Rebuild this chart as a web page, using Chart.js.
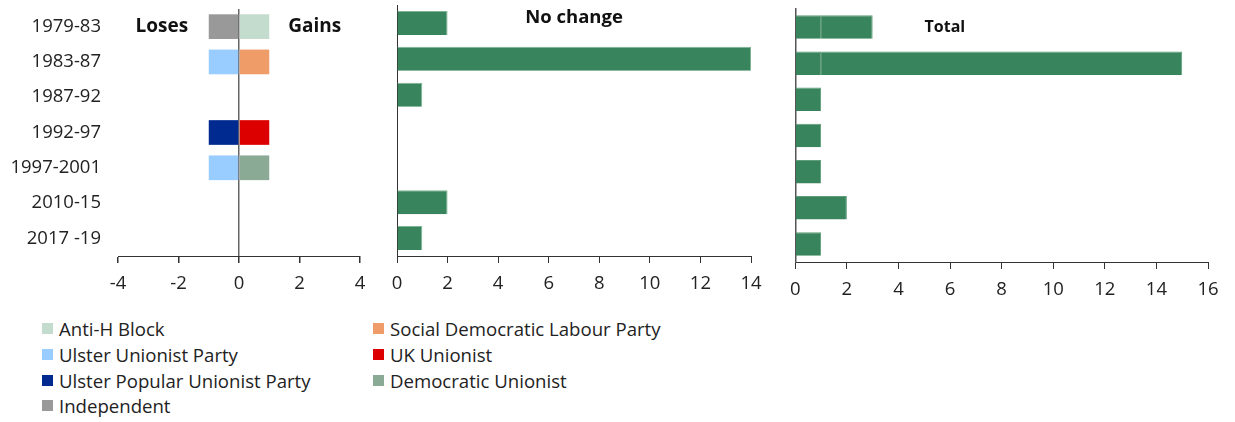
<!DOCTYPE html>
<html lang="en">
<head>
    <meta charset="UTF-8">
    <title>Northern Ireland seat changes</title>
    <script src="https://cdn.jsdelivr.net/npm/chart.js"></script>
    <style>
        body { margin: 0; background: #fff; width: 1235px; height: 422px; position: relative; overflow: hidden; font-family: 'Open Sans', sans-serif; }
        .panel { position: absolute; top: 0; height: 300px; }
        #legend { position: absolute; left: 42px; top: 316px; display: grid; grid-template-columns: 331px auto; color: #222; font-size: 18.6px; }
        #legend div { height: 25.7px; display: flex; align-items: center; white-space: nowrap; }
        #legend span { display: inline-block; width: 11px; height: 11px; margin-right: 6px; }
    </style>
</head>
<body>
    <div class="panel" style="left:0;width:380px"><canvas id="changeChart"></canvas></div>
    <div class="panel" style="left:380px;width:400px"><canvas id="sameChart"></canvas></div>
    <div class="panel" style="left:780px;width:455px"><canvas id="totalChart"></canvas></div>
    <div id="legend"></div>

    <script>
        const periods = ['1979-83', '1983-87', '1987-92', '1992-97', '1997-2001', '2010-15', '2017 -19'];

        // seats won (+) or lost (-) by each party, per period
        const parties = ['Anti-H Block', 'Social Democratic Labour Party', 'Ulster Unionist Party', 'UK Unionist',
                         'Ulster Popular Unionist Party', 'Democratic Unionist', 'Independent'];
        const partyColours = ['#c3dccd', '#f09c68', '#99ccff', '#dd0000', '#002a8f', '#8aaa96', '#999999'];
        const antiHBlock  = [1, 0, 0, 0, 0, 0, 0];
        const sdlp        = [0, 1, 0, 0, 0, 0, 0];
        const uup         = [0, -1, 0, 0, -1, 0, 0];
        const ukUnionist  = [0, 0, 0, 1, 0, 0, 0];
        const upup        = [0, 0, 0, -1, 0, 0, 0];
        const dup         = [0, 0, 0, 0, 1, 0, 0];
        const independent = [-1, 0, 0, 0, 0, 0, 0];
        const partyChanges = [antiHBlock, sdlp, uup, ukUnionist, upup, dup, independent];

        const noChange  = [2, 14, 1, 0, 0, 2, 1];
        const seatGains = [1, 1, 0, 1, 1, 0, 0];

        const changeTicks = [-4, -2, 0, 2, 4];
        const green = '#38845c';

        Chart.defaults.font.family = "'Open Sans', sans-serif";
        Chart.defaults.font.size = 18.5;
        Chart.defaults.color = '#222';

        // bold text notes placed with the chart's own scales
        const notes = {
            id: 'notes',
            afterDatasetsDraw(chart, args, opts) {
                const ctx = chart.ctx;
                ctx.save();
                ctx.fillStyle = '#111';
                ctx.textAlign = 'center';
                ctx.textBaseline = 'middle';
                opts.items.forEach(n => {
                    ctx.font = `bold ${n.size}px 'Open Sans', sans-serif`;
                    const x = chart.scales.x.getPixelForValue(n.x);
                    const y = chart.scales.y.getPixelForValue(n.cat) + (n.dy || 0);
                    ctx.fillText(n.text, x, y);
                });
                ctx.restore();
            }
        };

        // keep the category axis from pushing the plot area down
        const noPad = (s, w) => { s.width = w; s.paddingTop = 0; s.paddingBottom = 0; };

        function xAxis(min, max, h) {
            return {
                min, max,
                border: { color: '#333', width: 1 },
                grid: { drawOnChartArea: false, tickLength: 7, tickColor: '#333' },
                ticks: { stepSize: 2, padding: 10, maxRotation: 0 },
                afterFit: s => { s.height = h; }
            };
        }

        new Chart(document.getElementById('changeChart'), {
            type: 'bar',
            data: {
                labels: periods,
                datasets: parties.map((p, i) => ({
                    label: p,
                    data: partyChanges[i],
                    backgroundColor: partyColours[i],
                    barPercentage: 0.7,
                    categoryPercentage: 1
                }))
            },
            options: {
                indexAxis: 'y',
                responsive: true,
                maintainAspectRatio: false,
                animation: false,
                layout: { padding: { top: 9, right: 20, left: 0, bottom: 0 } },
                plugins: {
                    legend: { display: false },
                    tooltip: { enabled: false },
                    notes: { items: [
                        { text: 'Loses', x: -2.55, cat: 0, size: 19 },
                        { text: 'Gains', x: 2.5, cat: 0, size: 19 }
                    ] }
                },
                scales: {
                    x: {
                        stacked: true,
                        min: changeTicks[0], max: changeTicks[changeTicks.length - 1],
                        border: { color: '#333', width: 1 },
                        grid: {
                            drawOnChartArea: true, tickLength: 7, tickColor: '#333', lineWidth: 1.5,
                            color: c => (c.tick && c.tick.value === 0) ? '#666' : 'rgba(0,0,0,0)'
                        },
                        ticks: { stepSize: 2, padding: 10 },
                        afterFit: s => { s.height = 44; }
                    },
                    y: {
                        stacked: true,
                        border: { display: false },
                        grid: { display: false },
                        ticks: { padding: 9 },
                        afterFit: s => noPad(s, 118)
                    }
                }
            },
            plugins: [notes]
        });

        new Chart(document.getElementById('sameChart'), {
            type: 'bar',
            data: {
                labels: periods,
                datasets: [{
                    label: 'No change', data: noChange, backgroundColor: green,
                    borderColor: '#7fb493', borderWidth: { top: 1, right: 1, bottom: 0, left: 0 },
                    barPercentage: 0.67, categoryPercentage: 1
                }]
            },
            options: {
                indexAxis: 'y',
                responsive: true,
                maintainAspectRatio: false,
                animation: false,
                layout: { padding: { top: 5, right: 29, left: 17, bottom: 0 } },
                plugins: {
                    legend: { display: false },
                    tooltip: { enabled: false },
                    notes: { items: [{ text: 'No change', x: 7.0, cat: 0, dy: -5, size: 18.5 }] }
                },
                scales: {
                    x: xAxis(0, 14, 44),
                    y: {
                        border: { color: '#333', width: 1 },
                        grid: { display: false },
                        ticks: { display: false },
                        afterFit: s => noPad(s, 0)
                    }
                }
            },
            plugins: [notes]
        });

        new Chart(document.getElementById('totalChart'), {
            type: 'bar',
            data: {
                labels: periods,
                datasets: [
                    { label: 'Gains', data: seatGains },
                    { label: 'No change', data: noChange }
                ].map(d => Object.assign(d, {
                    backgroundColor: green, borderColor: '#5f9d78',
                    borderWidth: { top: 1, right: 1, bottom: 0, left: 0 },
                    barPercentage: 0.65, categoryPercentage: 1
                }))
            },
            options: {
                indexAxis: 'y',
                responsive: true,
                maintainAspectRatio: false,
                animation: false,
                layout: { padding: { top: 9, right: 27, left: 14, bottom: 0 } },
                plugins: {
                    legend: { display: false },
                    tooltip: { enabled: false },
                    notes: { items: [{ text: 'Total', x: 5.8, cat: 0, size: 16 }] }
                },
                scales: {
                    x: Object.assign(xAxis(0, 16, 38), { stacked: true }),
                    y: {
                        stacked: true,
                        border: { color: '#555', width: 1.5 },
                        grid: { display: false },
                        ticks: { display: false },
                        afterFit: s => noPad(s, 0)
                    }
                }
            },
            plugins: [notes]
        });

        // two-column legend, filled row by row
        const legend = document.getElementById('legend');
        parties.forEach((p, i) => {
            const item = document.createElement('div');
            item.innerHTML = `<span style="background:${partyColours[i]}"></span>${p}`;
            legend.appendChild(item);
        });
    </script>
</body>
</html>
